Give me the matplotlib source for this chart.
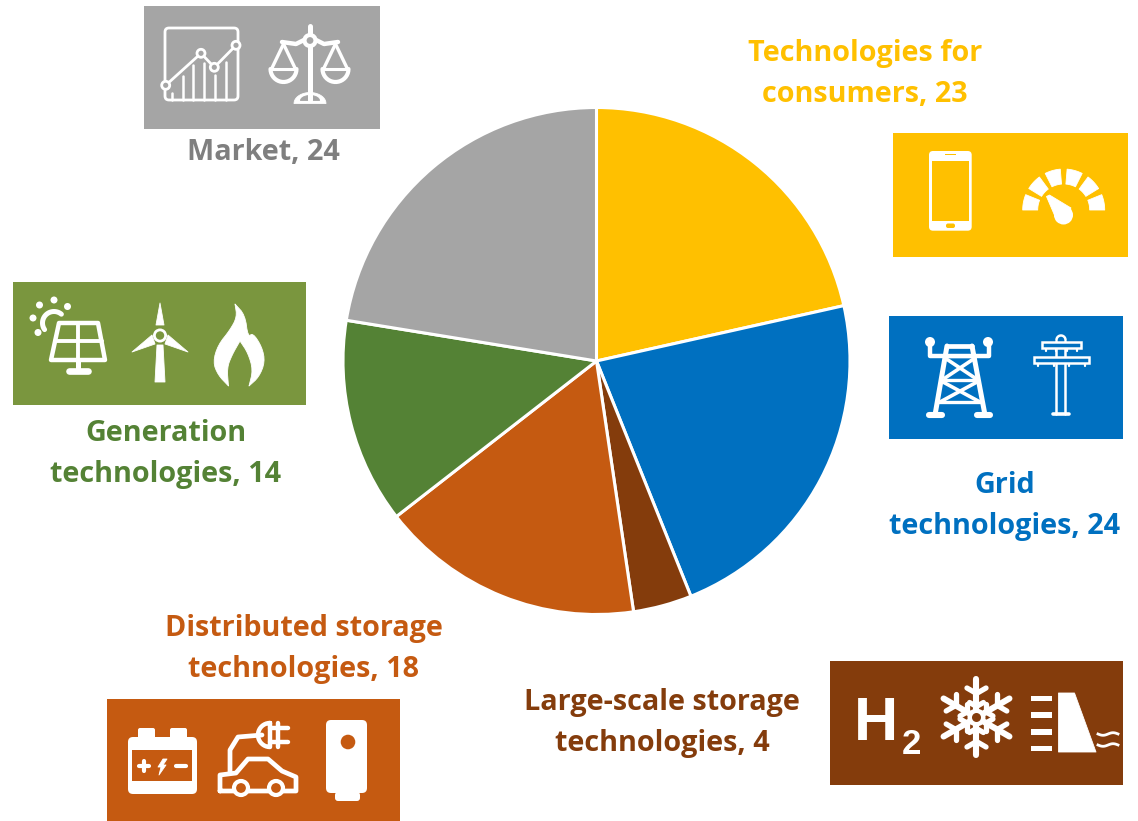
import numpy as np
import matplotlib
matplotlib.use("Agg")
import matplotlib.pyplot as plt
from matplotlib.patches import Circle, FancyBboxPatch, Polygon, Rectangle

W, H = 1138, 821
WHITE = "white"

categories = ["Technologies for\nconsumers", "Grid\ntechnologies", "Large-scale storage\ntechnologies",
              "Distributed storage\ntechnologies", "Generation\ntechnologies", "Market"]
values = [23, 24, 4, 18, 14, 24]
colors = ["#FFC000", "#0070C0", "#843C0C", "#C55A11", "#548235", "#A5A5A5"]
label_colors = ["#FFC000", "#0070C0", "#843C0C", "#C55A11", "#548235", "#7F7F7F"]
label_pos = [(865, 74), (1005, 506), (662, 723), (304, 649), (166, 454), (263, 153)]

plt.rcParams["font.family"] = ["Open Sans", "DejaVu Sans"]
fig = plt.figure(figsize=(W / 100, H / 100), dpi=100)

# overlay in pixel coords, y going down like the picture
bg = fig.add_axes([0, 0, 1, 1])
bg.set_xlim(0, W)
bg.set_ylim(H, 0)
bg.axis("off")

# pie
cx, cy, r = 596.5, 361, 253.5
ax = fig.add_axes([(cx - r) / W, 1 - (cy + r) / H, 2 * r / W, 2 * r / H])
ax.pie(values, colors=colors, startangle=90, counterclock=False, radius=1,
       wedgeprops={"edgecolor": "white", "linewidth": 2.2})
ax.set_xlim(-1, 1)
ax.set_ylim(-1, 1)
ax.axis("off")

for cat, val, col, (x, y) in zip(categories, values, label_colors, label_pos):
    bg.text(x, y, f"{cat}, {val}", color=col, fontsize=20.7, fontweight="bold", ha="center",
            va="center", linespacing=1.55)


def box(x0, y0, x1, y1, col):
    bg.add_patch(Rectangle((x0, y0), x1 - x0, y1 - y0, fc=col, ec="none"))


def line(pts, lw=2.0, col=WHITE):
    p = np.array(pts, dtype=float)
    bg.plot(p[:, 0], p[:, 1], color=col, lw=lw, solid_capstyle="round", solid_joinstyle="round")


def poly(pts, col=WHITE):
    bg.add_patch(Polygon(pts, closed=True, fc=col, ec=col, lw=0.6, joinstyle="round"))


def circ(x, y, rad, fc=WHITE, ec="none", lw=0):
    bg.add_patch(Circle((x, y), rad, fc=fc, ec=ec, lw=lw, zorder=4))


def rrect(x0, y0, x1, y1, rad, fc=WHITE, ec="none", lw=0):
    bg.add_patch(FancyBboxPatch((x0 + rad, y0 + rad), x1 - x0 - 2 * rad, y1 - y0 - 2 * rad,
                                boxstyle=f"round,pad={rad}", fc=fc, ec=ec, lw=lw))


def arc(x, y, rad, a0, a1, lw=2.0, col=WHITE):
    t = np.radians(np.linspace(a0, a1, 30))
    line(np.c_[x + rad * np.cos(t), y - rad * np.sin(t)], lw, col)


def smooth(pts, n=2):
    p = np.array(pts, dtype=float)
    for _ in range(n):
        q = np.roll(p, -1, axis=0)
        p = np.c_[0.75 * p + 0.25 * q, 0.25 * p + 0.75 * q].reshape(-1, 2)
    return p


# market icons
GRAY = "#A5A5A5"
box(144, 6, 380, 129, GRAY)
rrect(165, 28, 238, 100, 4, fc="none", ec=WHITE, lw=2.0)
for bx, top in zip([172.3, 182.7, 193.3, 204, 215, 226], [93, 76, 65, 63, 75, 61.7]):
    line([(bx, top), (bx, 100)], 1.8)
trend = [(165.7, 85.3), (201, 53.3), (214.3, 67.3), (236, 45.3)]
line(trend, 2.0)
for x, y in trend:
    circ(x, y, 4, fc=GRAY, ec=WHITE, lw=2.0)
line([(310, 26), (310, 100)], 3.6)
line([(282, 42), (296, 44), (310, 37), (324, 44), (338, 42)], 3.2)
circ(310, 40.5, 5.5, fc=GRAY, ec=WHITE, lw=3)
for px in (283.5, 335.5):
    line([(px, 44), (px - 12, 69)], 2.4)
    line([(px, 44), (px + 12, 69)], 2.4)
    line([(px - 13, 69), (px + 13, 69)], 2.2)
    t = np.radians(np.linspace(180, 360, 20))
    line(np.c_[px + 13 * np.cos(t), 69 - 13 * np.sin(t)], 3.0)
t = np.radians(np.linspace(0, 180, 20))
poly(np.c_[310 + 16 * np.cos(t), 103.5 - 11 * np.sin(t)])
poly(np.c_[310 + 9.5 * np.cos(t), 100.5 - 5 * np.sin(t)], col=GRAY)

# consumer icons
YEL = "#FFC000"
box(893, 133, 1128, 257, YEL)
rrect(929, 151, 971.7, 230.7, 4)
bg.add_patch(Rectangle((931.7, 160.7), 37.3, 60.3, fc=YEL, ec="none"))
rrect(946, 223.5, 955, 228, 2, fc=YEL)
bg.add_patch(Rectangle((945, 154), 11, 1.5, fc=YEL, ec="none"))
gx, gy = 1063.7, 210
for i in range(6):
    a0 = 180 - i * 31.6
    t = np.radians(np.linspace(a0, a0 - 22, 12))
    outer = np.c_[gx + 41 * np.cos(t), gy - 41 * np.sin(t)]
    inner = np.c_[gx + 26 * np.cos(t[::-1]), gy - 26 * np.sin(t[::-1])]
    poly(np.r_[outer, inner])
circ(1063.5, 215, 9.5)
poly([(1046.5, 196.5), (1049.5, 195), (1071, 208), (1057, 221)])

# grid icons
BLUE = "#0070C0"
box(889, 316, 1123, 439, BLUE)
circ(930, 342, 5)
circ(988, 342, 5)
line([(930, 345), (930, 356), (989, 356), (989, 345)], 3.2)
line([(947, 346), (972, 346)], 3.4)
line([(947, 346), (935, 415)], 3.6)
line([(972, 346), (985, 415)], 3.6)
line([(945, 356), (974, 356)], 2.4)
line([(943, 380), (977, 380)], 2.4)
line([(938, 402), (982, 402)], 2.4)
line([(945, 358), (975, 378)], 2.6)
line([(975, 358), (945, 378)], 2.6)
line([(943, 382), (980, 402)], 2.6)
line([(977, 382), (940, 402)], 2.6)
line([(929, 415), (942, 415)], 4.4)
line([(977, 415), (990, 415)], 4.4)
px = 1061
line([(px - 4.5, 341), (px - 4.5, 414)], 1.8)
line([(px + 4.5, 341), (px + 4.5, 414)], 1.8)
arc(px, 340, 4.5, 0, 180, 1.8)
line([(1053, 414), (1069, 414)], 2.6)
for bx0, bx1, y0, y1 in [(1042, 1081, 342, 348.5), (1034, 1089, 357, 363)]:
    bg.add_patch(Rectangle((bx0, y0), bx1 - bx0, y1 - y0, fc=BLUE, ec=WHITE, lw=1.8, zorder=3))
    for hx in np.linspace(bx0 + 4, bx1 - 4, 4):
        line([(hx, y1), (hx, y1 + 3)], 1.6)

# generation icons
GRN = "#7A963E"
box(13, 282, 306, 405, GRN)
for x, y in [(39.5, 305), (54, 300), (67.5, 306.5), (33, 318), (38, 332.5)]:
    circ(x, y, 3.5)
arc(54, 323, 11.5, 50, 215, 3.6)
bg.add_patch(Polygon([(59, 323), (98, 323), (105, 360), (51, 360)], closed=True, fc=GRN, ec=WHITE,
                     lw=3.2, joinstyle="round"))
line([(78.5, 323), (78.5, 368)], 2.8)
line([(55, 341), (102, 341)], 2.8)
line([(78.5, 360), (78.5, 370)], 3.6)
line([(69, 371), (88, 371)], 4.8)
hub = (160, 335.5)
circ(hub[0], hub[1], 7)
circ(hub[0], hub[1], 4.2, fc=GRN)
poly([(160, 303), (164, 325), (156, 325)])
poly([(132, 352), (152, 335), (155, 344)])
poly([(188, 352), (168, 335), (165, 344)])
poly([(157, 345), (163, 345), (165, 382), (155, 382)])
flame = [(235, 304), (235, 304), (245, 315), (248, 337), (253, 333), (262, 347), (265, 362), (259, 377),
         (249, 386), (249, 386), (253, 370), (248, 353), (240, 341), (240, 341), (232, 355), (227, 368),
         (228.5, 386), (228.5, 386), (218, 375), (213, 362), (218, 345), (230, 330), (237, 317)]
poly(smooth(flame))

# distributed storage icons
ORG = "#C55A11"
box(107, 699, 400, 821, ORG)
rrect(128, 737, 197, 794, 5)
rrect(138, 728, 155, 745, 2)
rrect(170, 728, 187, 745, 2)
bg.add_patch(Rectangle((132, 750), 60, 31, fc=ORG, ec="none"))
line([(139, 766), (149, 766)], 3)
line([(144, 761), (144, 771)], 3)
line([(176, 766), (186, 766)], 3)
poly([(163, 759), (167, 759), (163, 765), (166, 765), (159, 775), (161, 767), (158, 767)])
line([(220, 791), (220, 775), (236, 773), (248, 759), (268, 759), (282, 771), (296, 777), (296, 791), (220, 791)], 3.4)
for wx in (241, 276):
    circ(wx, 788, 7, fc=ORG, ec=WHITE, lw=3)
line([(230, 773), (230, 750), (238, 737), (262, 735)], 3.4)
t = np.radians(np.linspace(90, 270, 20))
line(np.r_[np.c_[270 + 12 * np.cos(t), 735 - 12 * np.sin(t)], [[270, 723]]], 3.2)
line([(270, 728), (288, 728)], 3.2)
line([(270, 742), (288, 742)], 3.2)
line([(278, 723), (278, 747)], 3.2)
rrect(326, 720, 367, 793, 5)
rrect(335, 792, 360, 801, 3)
circ(348, 742, 7.3, fc=ORG)

# large-scale storage icons
BRN = "#843C0C"
box(830, 661, 1123, 785, BRN)
bg.text(876, 718, "H", color=WHITE, fontsize=44, fontweight="bold", family="Liberation Sans",
        ha="center", va="center_baseline")
bg.text(911, 741, "2", color=WHITE, fontsize=25, fontweight="bold", family="Liberation Sans",
        ha="center", va="center_baseline")
sx, sy = 976.5, 717.5
centre = np.array([sx, sy])
for a in range(30, 390, 60):
    u = np.array([np.cos(np.radians(a + 60)), np.sin(np.radians(a + 60))])
    line([centre + 8 * u, centre + 38 * u], 4.4)
    for da in (60, -60):
        b = np.radians(a + 60 + da)
        v = np.array([np.cos(b), np.sin(b)])
        line([centre + 24 * u, centre + 24 * u + 11 * v], 3.8)
        line([centre + 11 * u, centre + 11 * u + 8 * v], 3.8)
circ(sx, sy, 9)
circ(sx, sy, 4.5, fc=BRN)
for dy in (698.5, 715, 732, 748.5):
    bg.add_patch(Rectangle((1031.5, dy - 2.5), 20.5, 5.5, fc=WHITE, ec="none"))
poly([(1058.5, 693), (1074.5, 693), (1096, 752), (1058.5, 752)])
wx = np.linspace(1098, 1118, 20)
for wy in (734, 745):
    bg.plot(wx, wy + 1.3 * np.sin((wx - 1098) / 3.2), color=WHITE, lw=2)

fig.savefig("out.png", dpi=100)
